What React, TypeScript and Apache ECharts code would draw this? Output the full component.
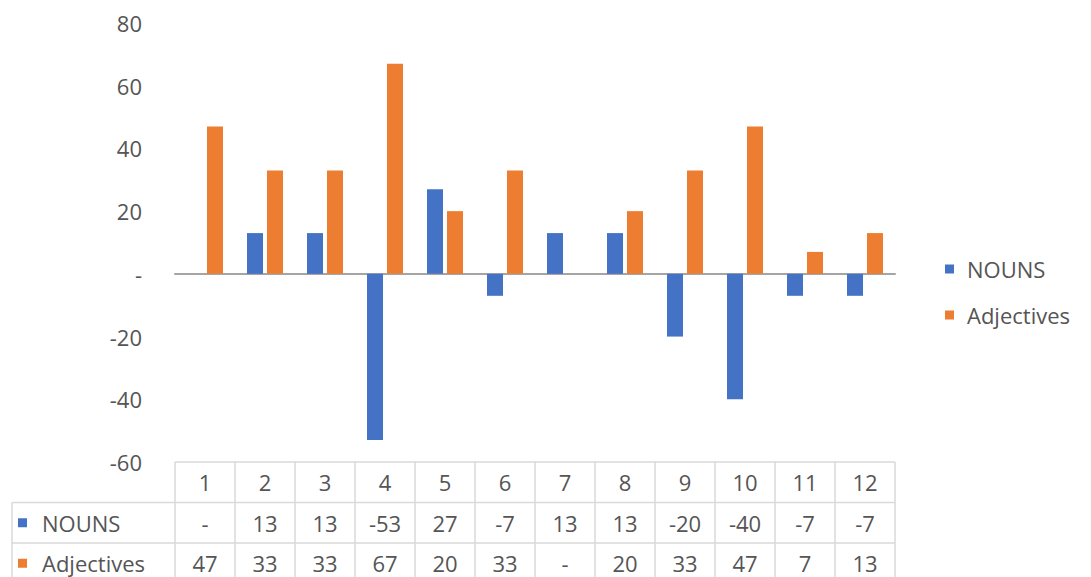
import React, { useEffect, useRef } from "react";
import * as echarts from "echarts";

const categories = ["1", "2", "3", "4", "5", "6", "7", "8", "9", "10", "11", "12"];
const nouns: (number | null)[] = [null, 13, 13, -53, 27, -7, 13, 13, -20, -40, -7, -7];
const adjectives: (number | null)[] = [47, 33, 33, 67, 20, 33, null, 20, 33, 47, 7, 13];
const seriesNames = ["NOUNS", "Adjectives"];
const colors = ["#4472C4", "#ED7D31"];

const W = 1091;
const H = 577;
const GRID_LEFT = 175;
const GRID_RIGHT_X = 895;
const GRID_TOP = 23;
const GRID_BOTTOM_Y = 462;
const ROW_H = 40.5;
const TABLE_LEFT = 12;
const FONT = "'Open Sans', 'Noto Sans', sans-serif";
const FS = 22;
const TXT = "#555555";
const LINE = "#d9d9d9";

export default function App() {
  const ref = useRef<HTMLDivElement>(null);
  useEffect(() => {
    document.body.style.margin = "0";
    const chart = echarts.init(ref.current!, null, { renderer: "svg" });
    const colW = (GRID_RIGHT_X - GRID_LEFT) / categories.length;
    const rows = [nouns, adjectives];
    const graphics: any[] = [];
    const y0 = GRID_BOTTOM_Y;
    const y1 = y0 + ROW_H;
    const y2 = y1 + ROW_H;
    const y3 = y2 + ROW_H;
    const ls = { stroke: LINE, lineWidth: 1.5 };
    graphics.push({ type: "line", shape: { x1: GRID_LEFT, y1: y0, x2: GRID_RIGHT_X, y2: y0 }, style: ls });
    graphics.push({ type: "line", shape: { x1: TABLE_LEFT, y1: y1, x2: GRID_RIGHT_X, y2: y1 }, style: ls });
    graphics.push({ type: "line", shape: { x1: TABLE_LEFT, y1: y2, x2: GRID_RIGHT_X, y2: y2 }, style: ls });
    graphics.push({ type: "line", shape: { x1: TABLE_LEFT, y1: y1, x2: TABLE_LEFT, y2: y3 }, style: ls });
    for (let i = 0; i <= categories.length; i++) {
      const x = GRID_LEFT + i * colW;
      graphics.push({ type: "line", shape: { x1: x, y1: y0, x2: x, y2: y3 }, style: ls });
    }
    categories.forEach((c, i) => {
      graphics.push({
        type: "text",
        x: GRID_LEFT + (i + 0.5) * colW,
        y: (y0 + y1) / 2,
        style: { text: c, fill: TXT, font: `${FS}px ${FONT}`, align: "center", verticalAlign: "middle" },
      });
    });
    rows.forEach((r, ri) => {
      const yc = y1 + ROW_H * (ri + 0.5);
      graphics.push({
        type: "rect",
        shape: { x: TABLE_LEFT + 6, y: yc - 4.5, width: 9, height: 9 },
        style: { fill: colors[ri] },
      });
      graphics.push({
        type: "text",
        x: TABLE_LEFT + 30,
        y: yc,
        style: { text: seriesNames[ri], fill: TXT, font: `${FS}px ${FONT}`, align: "left", verticalAlign: "middle" },
      });
      r.forEach((v, i) => {
        graphics.push({
          type: "text",
          x: GRID_LEFT + (i + 0.5) * colW,
          y: yc,
          style: { text: v === null ? "-" : String(v), fill: TXT, font: `${FS}px ${FONT}`, align: "center", verticalAlign: "middle" },
        });
      });
    });

    chart.setOption({
      animation: false,
      color: colors,
      textStyle: { fontFamily: FONT },
      grid: {
        left: GRID_LEFT,
        right: W - GRID_RIGHT_X,
        top: GRID_TOP,
        bottom: H - GRID_BOTTOM_Y,
        containLabel: false,
      },
      legend: {
        orient: "vertical",
        left: 945,
        top: 258,
        padding: 0,
        itemWidth: 9,
        itemHeight: 9,
        itemGap: 24,
        icon: "rect",
        textStyle: { color: TXT, fontSize: FS, fontFamily: FONT, padding: [0, 0, 0, 8] },
        data: seriesNames,
      },
      xAxis: {
        type: "category",
        data: categories,
        axisLine: { onZero: true, lineStyle: { color: "#A5A5A5", width: 2 } },
        axisTick: { show: false },
        axisLabel: { show: false },
        splitLine: { show: false },
      },
      yAxis: {
        type: "value",
        min: -60,
        max: 80,
        interval: 20,
        axisLine: { show: false },
        axisTick: { show: false },
        splitLine: { show: false },
        axisLabel: {
          color: TXT,
          fontSize: FS,
          fontFamily: FONT,
          margin: 33,
          formatter: (v: number) => (v === 0 ? "-" : String(v)),
        },
      },
      series: [
        { name: seriesNames[0], type: "bar", data: nouns, barGap: "25%", barCategoryGap: "40%" },
        { name: seriesNames[1], type: "bar", data: adjectives, barGap: "25%", barCategoryGap: "40%" },
      ],
      graphic: graphics,
    });
    return () => chart.dispose();
  }, []);
  return <div ref={ref} style={{ width: W, height: H }} />;
}
